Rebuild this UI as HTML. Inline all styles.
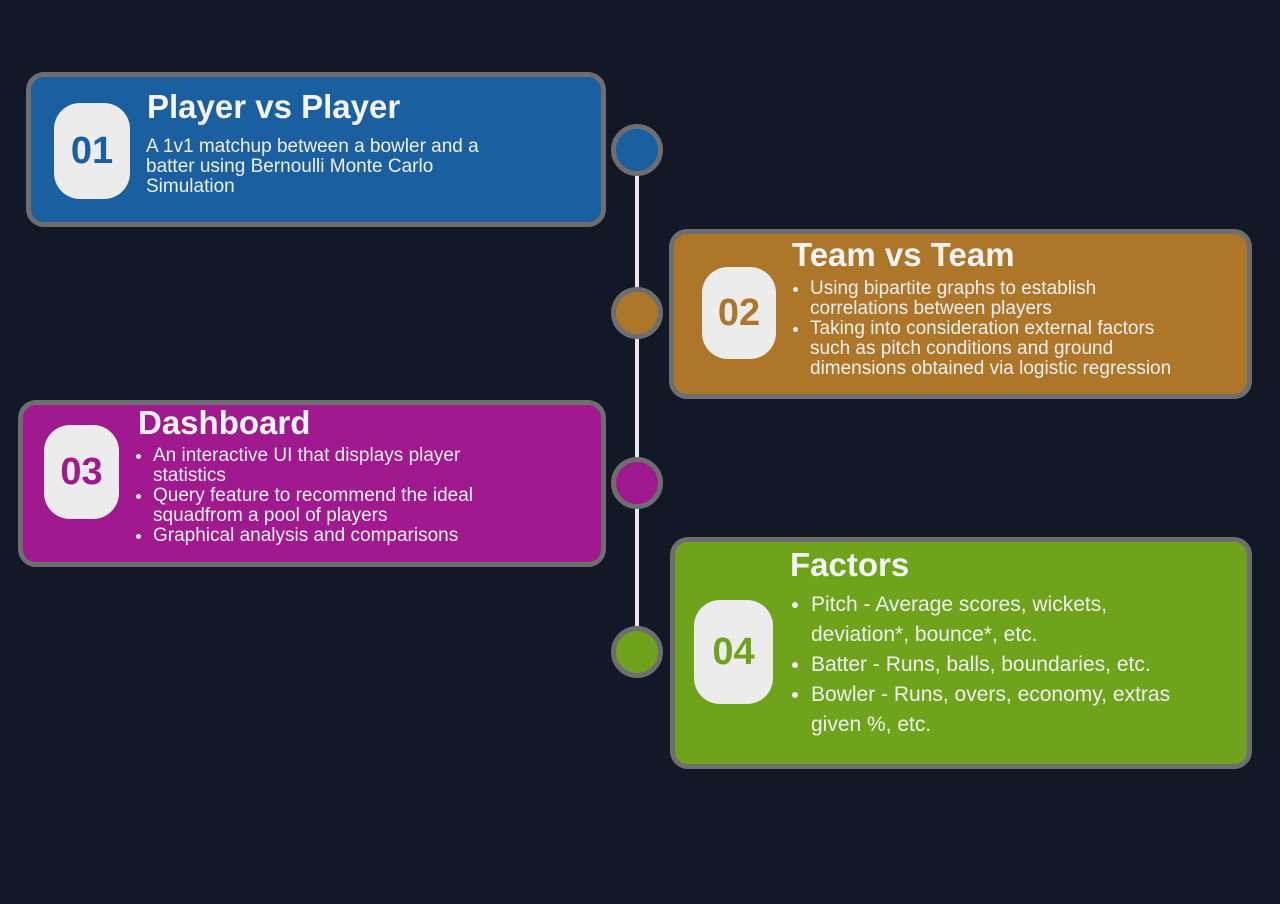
<!DOCTYPE html>
<html><head><meta charset="utf-8"><style>
*{box-sizing:border-box;margin:0;padding:0}
body{width:1280px;height:904px;background:#121826;position:relative;overflow:hidden;font-family:"Liberation Sans",sans-serif;color:#f2f2f2}
.card{position:absolute;border:5px solid #6e6e70;border-radius:18px}
.badge{position:absolute;background:#ececec;border-radius:26px;display:flex;align-items:center;justify-content:center;font-weight:bold;font-size:38px}
.title{position:absolute;font-weight:bold;font-size:33px;color:#f4f4f4}
.body{position:absolute;font-size:19px;line-height:20px;color:#f0f0f0}
.nw{white-space:nowrap}
ul{padding-left:22px}
.dot{position:absolute;width:52px;height:52px;border-radius:50%;border:5px solid #6e6e70}
.line{position:absolute;left:635px;top:150px;width:4px;height:502px;background:#e8e8e8}
</style></head><body>
<div class="line"></div>
<div class="dot" style="left:611px;top:124px;background:#1a5fa0"></div>
<div class="dot" style="left:611px;top:287px;background:#ae7629"></div>
<div class="dot" style="left:611px;top:457px;background:#a0198f"></div>
<div class="dot" style="left:611px;top:626px;background:#6ea31b"></div>

<div class="card" style="left:26px;top:72px;width:580px;height:155px;background:#1a5fa0"></div>
<div class="badge" style="left:54px;top:103px;width:76px;height:96px;color:#1a5fa0">01</div>
<div class="title" style="left:147px;top:88px">Player vs Player</div>
<div class="body nw" style="left:146px;top:137px">A 1v1 matchup between a bowler and a<br>batter using Bernoulli Monte Carlo<br>Simulation</div>

<div class="card" style="left:669px;top:229px;width:583px;height:170px;background:#ae7629"></div>
<div class="badge" style="left:702px;top:267px;width:74px;height:92px;color:#ae7629">02</div>
<div class="title" style="left:792px;top:236px">Team vs Team</div>
<div class="body nw" style="left:788px;top:279px"><ul>
<li>Using bipartite graphs to establish<br>correlations between players</li>
<li>Taking into consideration external factors<br>such as pitch conditions and ground<br>dimensions obtained via logistic regression</li></ul></div>

<div class="card" style="left:18px;top:400px;width:588px;height:167px;background:#a0198f"></div>
<div class="badge" style="left:44px;top:425px;width:75px;height:94px;color:#a0198f">03</div>
<div class="title" style="left:138px;top:404px">Dashboard</div>
<div class="body" style="left:131px;top:446px;width:400px"><ul>
<li>An interactive UI that displays player statistics</li>
<li>Query feature to recommend the ideal squadfrom a pool of players</li>
<li>Graphical analysis and comparisons</li></ul></div>

<div class="card" style="left:670px;top:537px;width:582px;height:232px;background:#6ea31b"></div>
<div class="badge" style="left:694px;top:600px;width:79px;height:104px;color:#6ea31b">04</div>
<div class="title" style="left:790px;top:546px">Factors</div>
<div class="body" style="left:789px;top:590px;width:390px;font-size:21px;line-height:30px"><ul>
<li>Pitch - Average scores, wickets, deviation*, bounce*, etc.</li>
<li>Batter - Runs, balls, boundaries, etc.</li>
<li>Bowler - Runs, overs, economy, extras given %, etc.</li></ul></div>
</body></html>
